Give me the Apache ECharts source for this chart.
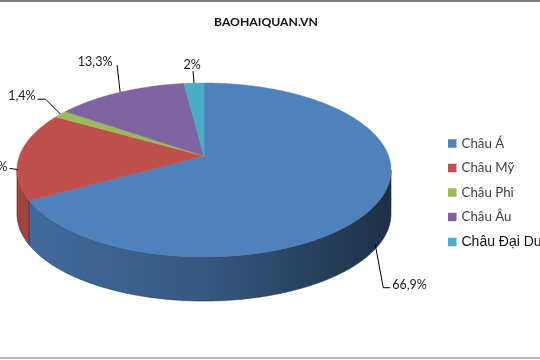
<!DOCTYPE html>
<html><head><meta charset="utf-8">
<script src="https://cdn.jsdelivr.net/npm/echarts@6/dist/echarts.min.js"></script>
<style>html,body{margin:0;padding:0;background:#fff}#c{width:540px;height:360px}</style>
</head><body><div id="c"></div>
<script>
// ---- data ----
const categories = ['Châu Á', 'Châu Mỹ', 'Châu Phi', 'Châu Âu', 'Châu Đại Dương'];
const values = [66.9, 16.4, 1.4, 13.3, 2];
const titleText = 'BAOHAIQUAN.VN';

// ---- styles / layout ----
const colors = ['#4f81bd', '#c0504d', '#9bbb59', '#8064a2', '#4bacc6'];
const CX = 204, CY = 170, RX = 187, RY = 87, T = 0.161, DEPTH = 44;
// label layout relative to anchor: anchor dy, leader points, text offset, align
const labelLayout = [
  {ady: 42, pts: [[-2, 0], [6, 43], [13, 43]], txt: [15, 40], align: 'left'},
  {ady: 0, pts: [[-2, 14], [-10, 13]], txt: [-12, 12], align: 'right'},
  {ady: 0, pts: [[0, 0], [-15, -15], [-23, -15]], txt: [-25, -18], align: 'right'},
  {ady: 0, pts: [[0, 0], [-3, -27]], txt: [-25, -30], align: 'center'},
  {ady: 0, pts: [[0, 0], [-1, -12]], txt: [-2, -18], align: 'center'}
];

const total = values.reduce((a, b) => a + b, 0);
function proj(phi) {
  const s = Math.sin(phi), c = Math.cos(phi);
  const d = 1 + T * c;
  return [CX + RX * s * Math.sqrt(1 - T * T) / d, CY - RY * (c + T) / d];
}
function shade(hex, k) {
  const n = parseInt(hex.slice(1), 16);
  const r = Math.round(((n >> 16) & 255) * k), g = Math.round(((n >> 8) & 255) * k), b = Math.round((n & 255) * k);
  return 'rgb(' + r + ',' + g + ',' + b + ')';
}
function arcPts(a0, a1, dy) {
  const pts = [];
  const n = Math.max(2, Math.ceil((a1 - a0) / 0.01));
  for (let k = 0; k <= n; k++) {
    const p = proj(a0 + (a1 - a0) * k / n);
    pts.push([p[0], p[1] + dy]);
  }
  return pts;
}
const phiR = Math.acos(-T), phiL = 2 * Math.PI - Math.acos(-T);

function makeRender(i) {
  return function (params, api) {
    const v = api.value(0);
    let start = 0;
    for (let j = 0; j < i; j++) start += values[j];
    const a0 = start / total * 2 * Math.PI, a1 = (start + v) / total * 2 * Math.PI;
    const col = colors[i];
    const children = [];
    const b0 = Math.max(a0, phiR), b1 = Math.min(a1, phiL);
    if (b1 > b0) {
      const top = arcPts(b0, b1, 0), bot = arcPts(b0, b1, DEPTH).reverse();
      children.push({
        type: 'polygon', shape: {points: top.concat(bot)},
        style: {
          fill: new echarts.graphic.LinearGradient(CX - RX, 0, CX + RX, 0, [
            {offset: 0, color: shade(col, 0.84)},
            {offset: 0.5, color: shade(col, 0.68)},
            {offset: 1, color: shade(col, 0.37)}
          ], true),
          stroke: shade(col, 0.4), lineWidth: 0.6
        }
      });
    }
    const apex = [CX, CY - RY * T];
    children.push({
      type: 'polygon', shape: {points: [apex].concat(arcPts(a0, a1, 0))},
      style: {fill: col, stroke: col, lineWidth: 0.5}
    });
    const m = proj((a0 + a1) / 2);
    const L = labelLayout[i];
    const ax = m[0], ay = m[1] + L.ady;
    children.push({
      type: 'polyline', shape: {points: L.pts.map(p => [ax + p[0], ay + p[1]])},
      style: {stroke: '#000', lineWidth: 1, fill: null}
    });
    children.push({
      type: 'text', x: ax + L.txt[0], y: ay + L.txt[1],
      style: {
        text: String(v).replace('.', ',') + '%', fill: '#1a1a1a',
        fontFamily: 'Lato', fontSize: 12.5, align: L.align, verticalAlign: 'middle'
      }
    });
    return {type: 'group', children: children};
  };
}

const chart = echarts.init(document.getElementById('c'), null, {renderer: 'canvas'});
const series = categories.map((name, i) => ({
  type: 'custom', name: name, coordinateSystem: 'none', silent: true,
  itemStyle: {color: colors[i]},
  data: [[values[i]]],
  renderItem: makeRender(i)
}));
const last = categories[categories.length - 1];
chart.setOption({
  animation: false,
  backgroundColor: '#fff',
  title: {
    text: titleText, left: 214, top: 15, padding: 0,
    textStyle: {fontFamily: 'Lato', fontWeight: 'bold', fontSize: 12.2, color: '#111', lineHeight: 14}
  },
  legend: {
    orient: 'vertical', left: 448, top: 137, padding: 0, itemWidth: 8.5, itemHeight: 8.5, itemGap: 11.5,
    icon: 'rect', data: categories, selectedMode: false,
    formatter: n => (n === last ? '{b|' + n + '}' : '{a|' + n + '}'),
    textStyle: {
      rich: {
        a: {fontFamily: 'Lato', fontSize: 13.3, color: '#404040', lineHeight: 14},
        b: {fontFamily: 'Liberation Sans', fontSize: 14, color: '#111', lineHeight: 14}
      }
    }
  },
  graphic: [
    {type: 'rect', shape: {x: 0, y: 0, width: 540, height: 2}, style: {fill: '#7f7f7f'}, silent: true},
    {type: 'rect', shape: {x: 0, y: 357, width: 540, height: 2}, style: {fill: '#b5b5b5'}, silent: true}
  ],
  series: series
});
</script></body></html>
